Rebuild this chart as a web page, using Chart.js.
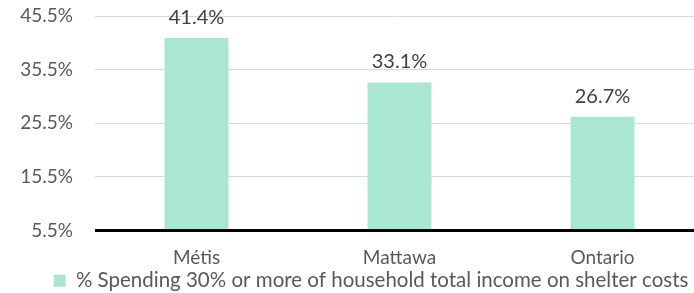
<!DOCTYPE html>
<html>
<head>
<meta charset="utf-8">
<script src="https://cdn.jsdelivr.net/npm/chart.js@4.4.0/dist/chart.umd.min.js"></script>
<style>
    html, body { margin: 0; padding: 0; background: #fff; overflow: hidden; }
    #wrap { width: 742px; height: 301px; position: relative; }
</style>
</head>
<body>
<div id="wrap"><canvas id="chart"></canvas></div>
<script>
const categories = ["Métis", "Mattawa", "Ontario"];
const values = [41.4, 33.1, 26.7];
const seriesName = "% Spending 30% or more of household total income on shelter costs";
const yTicks = [5.5, 15.5, 25.5, 35.5, 45.5];

const barColor = "#A9E6D3";
const font = "Lato";

// value labels above each bar
const valueLabels = {
    id: "valueLabels",
    afterDatasetsDraw(chart) {
        const ctx = chart.ctx;
        const meta = chart.getDatasetMeta(0);
        ctx.save();
        ctx.font = "20px " + font;
        ctx.fillStyle = "#404040";
        ctx.textAlign = "center";
        ctx.textBaseline = "alphabetic";
        meta.data.forEach((bar, i) => {
            ctx.fillText(values[i].toFixed(1) + "%", bar.x, bar.y - 14);
        });
        ctx.restore();
    },
};

// thick black baseline
const baseLine = {
    id: "baseLine",
    afterDatasetsDraw(chart) {
        const ctx = chart.ctx;
        const y = chart.scales.y.getPixelForValue(yTicks[0]);
        ctx.save();
        ctx.strokeStyle = "#000";
        ctx.lineWidth = 3;
        ctx.beginPath();
        ctx.moveTo(chart.chartArea.left, y);
        ctx.lineTo(chart.chartArea.right, y);
        ctx.stroke();
        ctx.restore();
    },
};

// legend sits a bit right of the plot centre
const legendShift = {
    id: "legendShift",
    afterLayout(chart) {
        chart.legend.left += 19;
        chart.legend.right += 19;
    },
};

new Chart(document.getElementById("chart"), {
    type: "bar",
    plugins: [valueLabels, baseLine, legendShift],
    data: {
        labels: categories,
        datasets: [
            {
                label: seriesName,
                data: values,
                backgroundColor: barColor,
                borderWidth: 0,
                barPercentage: 0.315,
                categoryPercentage: 1,
            },
        ],
    },
    options: {
        responsive: true,
        maintainAspectRatio: false,
        animation: false,
        layout: { padding: { top: 0, right: 38, left: 0, bottom: 0 } },
        plugins: {
            tooltip: { enabled: false },
            legend: {
                position: "bottom",
                labels: {
                    boxWidth: 12,
                    boxHeight: 12,
                    padding: 2,
                    color: "#595959",
                    font: { family: font, size: 20.5 },
                },
            },
        },
        scales: {
            x: {
                grid: { display: false, drawTicks: false },
                border: { display: false },
                ticks: { color: "#595959", font: { family: font, size: 19 }, padding: 16 },
                afterFit: (scale) => {
                    scale.height = 38;
                },
            },
            y: {
                min: 5.5,
                max: 45.5,
                afterBuildTicks: (scale) => {
                    scale.ticks = yTicks.map((v) => ({ value: v }));
                },
                afterFit: (scale) => {
                    scale.width = 95;
                    scale.paddingTop = 16;
                    scale.paddingBottom = 0;
                },
                grid: { color: "#D9D9D9", lineWidth: 1, drawTicks: false },
                border: { display: false },
                ticks: {
                    color: "#595959",
                    font: { family: font, size: 19 },
                    padding: 22,
                    callback: (v) => v.toFixed(1) + "%",
                },
            },
        },
    },
});
</script>
</body>
</html>
